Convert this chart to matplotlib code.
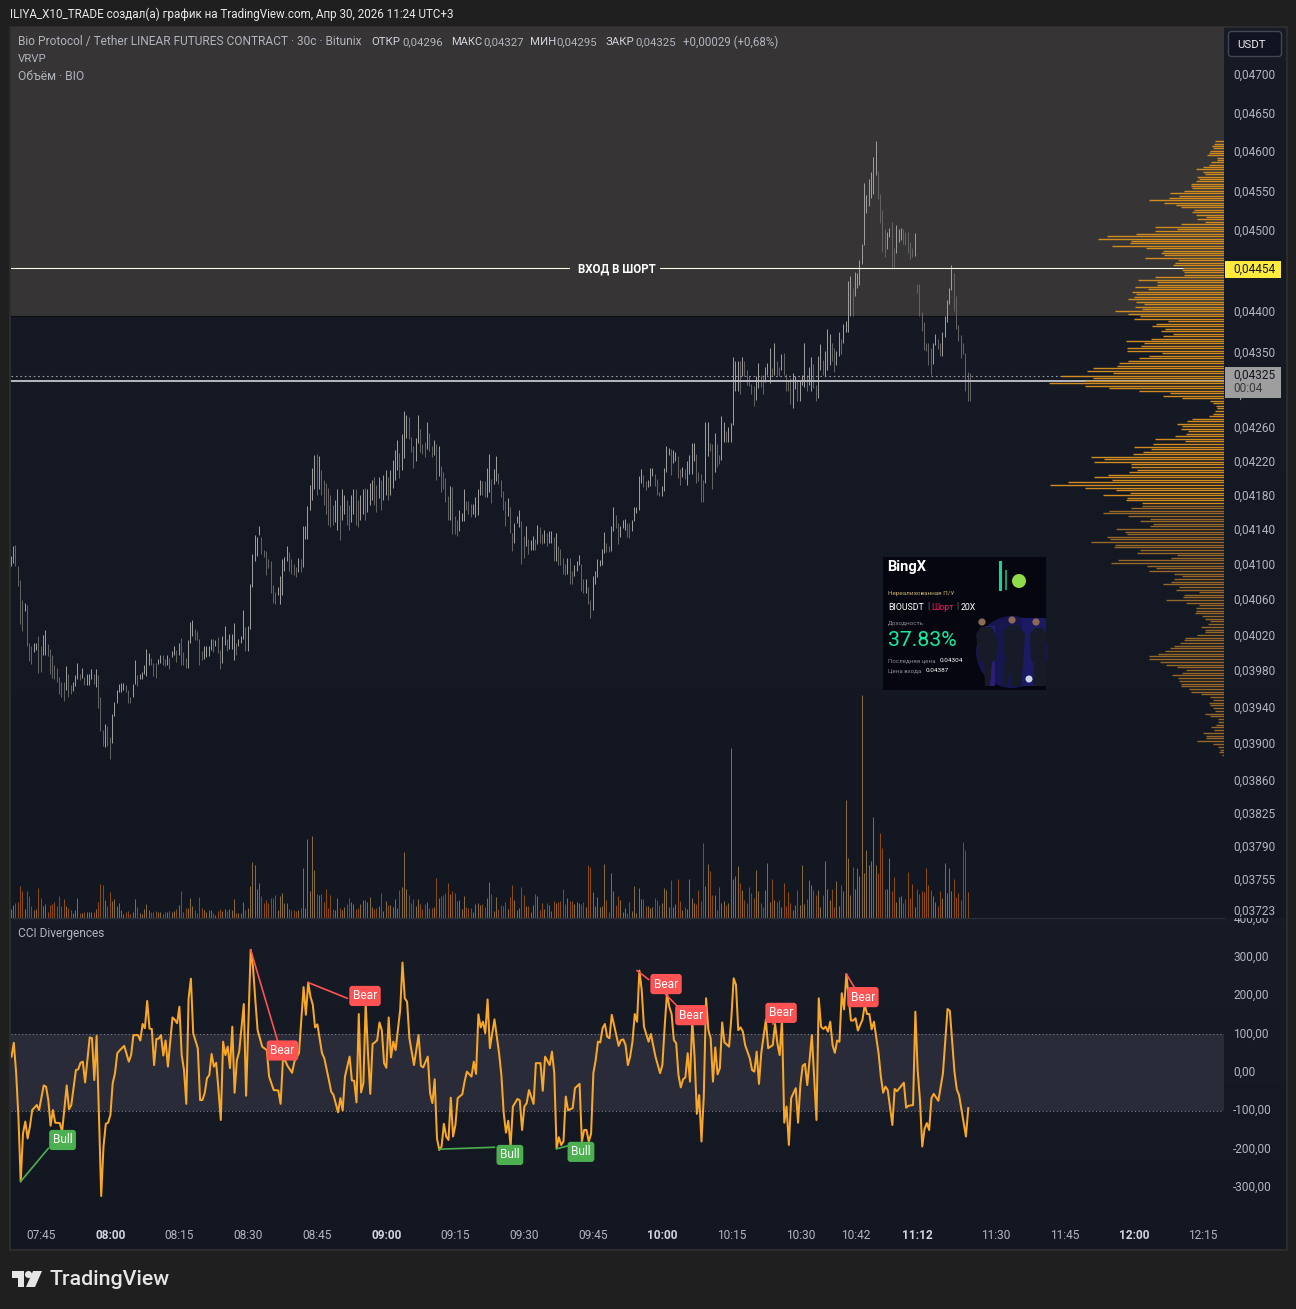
#!/usr/bin/env python3
"""BIOUSDT 30s chart with VRVP, volume and CCI pane, TradingView dark style."""

import numpy as np
import matplotlib
matplotlib.use("Agg")
import matplotlib.pyplot as plt
from matplotlib.colors import LinearSegmentedColormap
from matplotlib.patches import Rectangle, Circle, Polygon, FancyBboxPatch, Ellipse
from matplotlib.ticker import NullLocator
from matplotlib.transforms import ScaledTranslation

plt.rcParams['font.family'] = ['Roboto', 'DejaVu Sans']

# bar highs / lows, in 1e-5 USDT
highs = [
    4110, 4122, 4123, 4099, 4083, 4060, 4057, 4054, 4012, 4008, 4012, 4012, 4019, 4008, 4020, 4026, 4010, 4005, 3998, 3987,
    3984, 3974, 3968, 3968, 3986, 3977, 3965, 3968, 3976, 3989, 3977, 3984, 3974, 3977, 3977, 3982, 3977, 3982, 3976, 3951,
    3915, 3922, 3920, 3908, 3933, 3946, 3959, 3966, 3967, 3967, 3965, 3959, 3952, 3966, 3992, 3976, 3977, 3979, 3987, 4005,
    4000, 3995, 3989, 3989, 3994, 3998, 3998, 3994, 3998, 3995, 4003, 4008, 4004, 4012, 4017, 4001, 3995, 4015, 4035, 4037,
    4027, 4025, 4016, 4002, 4008, 4008, 4008, 4016, 4016, 4015, 4018, 4004, 4019, 4030, 4016, 4021, 4021, 4034, 4011, 4016,
    4019, 4048, 4029, 4031, 4078, 4112, 4134, 4132, 4144, 4132, 4117, 4116, 4107, 4104, 4077, 4069, 4075, 4087, 4107, 4109,
    4121, 4115, 4106, 4101, 4097, 4108, 4106, 4144, 4144, 4168,
    4192, 4212, 4227, 4229, 4226, 4210, 4198, 4195, 4189, 4181, 4169, 4175, 4187, 4169, 4187, 4181, 4175, 4169, 4181, 4187,
    4187, 4175, 4181, 4187, 4189, 4187, 4195, 4198, 4201, 4192, 4201, 4198, 4204, 4210, 4201, 4210, 4222, 4233, 4245,
    4230, 4252, 4280, 4275, 4272, 4249, 4238, 4247, 4275, 4258, 4240, 4243, 4267, 4253, 4238, 4245, 4240, 4238, 4214, 4208,
    4200, 4179, 4191, 4190, 4156, 4151, 4163, 4160, 4188, 4174, 4173, 4170, 4170, 4178, 4187, 4198, 4197, 4197, 4212, 4229,
    4199, 4211, 4226, 4206, 4198, 4185, 4174, 4177, 4167, 4137, 4148, 4156, 4163, 4150, 4133, 4144, 4130, 4128, 4133, 4129,
    4146, 4143, 4135, 4140, 4137, 4139, 4139, 4132, 4136, 4122, 4118, 4108, 4101, 4108, 4108, 4093, 4100, 4104, 4111, 4101,
    4084, 4084, 4075, 4060, 4087, 4093, 4107, 4105, 4118, 4138, 4125, 4121, 4144, 4166, 4157, 4148, 4145, 4151, 4153, 4148,
    4148, 4152, 4167, 4167, 4203, 4211, 4204, 4197, 4198, 4212, 4212, 4205, 4199, 4184, 4191, 4212, 4238, 4236, 4234, 4233,
    4231, 4226, 4211, 4213, 4211, 4220, 4227, 4242, 4241, 4229, 4207, 4205, 4198, 4266, 4267, 4242, 4240, 4254, 4240, 4228,
    4274, 4266, 4256, 4260, 4265,
    4344, 4340, 4340, 4340, 4344, 4340, 4329, 4321, 4312, 4309, 4321, 4337, 4323, 4323, 4332, 4337, 4356, 4331, 4362, 4340,
    4333, 4348, 4349, 4324, 4317, 4319, 4325, 4321, 4317, 4317, 4323, 4361, 4323, 4332, 4344, 4336, 4311, 4346, 4360, 4341,
    4352, 4379, 4373, 4361, 4356, 4352, 4375, 4366, 4385, 4389, 4438, 4444, 4429, 4449, 4448, 4464, 4484, 4560, 4545, 4566,
    4574, 4594, 4614, 4576, 4547, 4527, 4502, 4499, 4504, 4511, 4479, 4507, 4503, 4504, 4503, 4499, 4499, 4486, 4479, 4498,
    4434, 4434, 4400, 4387, 4361, 4362, 4356, 4362, 4373, 4367, 4361, 4375, 4395, 4414, 4429, 4458, 4447, 4419, 4384, 4371,
    4362, 4350, 4327, 4325,
]
lows = [
    4099, 4102, 4098, 4076, 4033, 4025, 4047, 4008, 3991, 3988, 4001, 4004, 3978, 3979, 3998, 3998, 3997, 3977, 3973, 3971,
    3968, 3955, 3952, 3947, 3959, 3951, 3955, 3958, 3964, 3971, 3970, 3972, 3965, 3965, 3965, 3971, 3966, 3963, 3939, 3914,
    3898, 3897, 3898, 3884, 3901, 3931, 3945, 3957, 3957, 3959, 3957, 3945, 3945, 3952, 3966, 3964, 3971, 3971, 3977, 3975,
    3987, 3987, 3975, 3973, 3988, 3989, 3987, 3986, 3987, 3983, 3996, 3998, 3990, 3998, 3987, 3987, 3984, 3984, 4012, 4019,
    4015, 4015, 3987, 3992, 3994, 3996, 3997, 4004, 4001, 4008, 4000, 3982, 3989, 4009, 4002, 4005, 4005, 3992, 3998, 4008,
    4012, 4016, 4003, 4002, 4027, 4075, 4104, 4110, 4134, 4112, 4109, 4088, 4096, 4068, 4056, 4055, 4065, 4055, 4065, 4093,
    4104, 4093, 4089, 4088, 4086, 4092, 4092, 4097, 4130, 4130,
    4163, 4175, 4187, 4181, 4187, 4181, 4169, 4158, 4146, 4143, 4146, 4149, 4140, 4128, 4151, 4158, 4146, 4140, 4149, 4158,
    4146, 4143, 4151, 4158, 4151, 4161, 4169, 4175, 4169, 4161, 4177, 4163, 4175, 4181, 4175, 4181, 4189, 4198, 4210,
    4200, 4210, 4224, 4247, 4246, 4231, 4212, 4220, 4241, 4231, 4229, 4225, 4235, 4232, 4225, 4228, 4198, 4203, 4184, 4187,
    4172, 4151, 4151, 4135, 4135, 4133, 4139, 4150, 4150, 4163, 4158, 4155, 4159, 4155, 4157, 4181, 4181, 4178, 4178, 4184,
    4171, 4193, 4197, 4193, 4178, 4163, 4144, 4156, 4136, 4116, 4125, 4148, 4143, 4101, 4108, 4122, 4112, 4117, 4117, 4117,
    4124, 4125, 4124, 4125, 4121, 4125, 4125, 4104, 4104, 4100, 4100, 4089, 4088, 4089, 4078, 4078, 4087, 4093, 4100, 4070,
    4068, 4068, 4055, 4040, 4048, 4078, 4086, 4098, 4100, 4114, 4115, 4115, 4116, 4139, 4142, 4124, 4132, 4142, 4140, 4132,
    4131, 4139, 4150, 4160, 4163, 4195, 4190, 4186, 4190, 4191, 4203, 4191, 4180, 4179, 4179, 4185, 4207, 4227, 4204, 4218,
    4220, 4200, 4192, 4201, 4199, 4192, 4205, 4205, 4220, 4195, 4197, 4172, 4172, 4195, 4226, 4232, 4187, 4208, 4213, 4217,
    4222, 4243, 4243, 4243, 4243,
    4263, 4303, 4304, 4300, 4321, 4321, 4311, 4309, 4300, 4286, 4293, 4307, 4308, 4300, 4314, 4323, 4313, 4321, 4323, 4323,
    4321, 4329, 4323, 4303, 4304, 4288, 4283, 4306, 4292, 4292, 4311, 4308, 4304, 4311, 4304, 4307, 4292, 4295, 4329, 4323,
    4321, 4329, 4335, 4340, 4326, 4335, 4346, 4348, 4361, 4375, 4375, 4395, 4395, 4419, 4429, 4433, 4459, 4483, 4522, 4532,
    4542, 4546, 4571, 4540, 4510, 4474, 4468, 4477, 4493, 4453, 4454, 4472, 4486, 4489, 4484, 4483, 4473, 4465, 4467, 4469,
    4423, 4394, 4376, 4353, 4352, 4335, 4323, 4336, 4359, 4354, 4346, 4346, 4369, 4387, 4409, 4426, 4401, 4379, 4364, 4343,
    4348, 4304, 4292, 4292,
]

# volume, no scale is shown on the chart so the unit is arbitrary
volume = [
    9, 13, 15, 16, 32, 27, 9, 27, 22, 12, 8, 9, 30, 20, 12, 14, 6, 13, 14, 16, 12, 22, 12, 19, 12, 10, 8, 5, 8, 20,
    5, 5, 6, 6, 6, 6, 6, 9, 16, 34, 33, 18, 12, 26, 17, 19, 12, 15, 8, 4, 6, 7, 4, 6, 19, 11, 5, 4, 9, 14,
    8, 6, 6, 7, 6, 6, 4, 6, 6, 7, 6, 7, 9, 13, 27, 6, 10, 10, 20, 12, 8, 5, 21, 10, 8, 6, 8, 8, 5, 3,
    7, 9, 7, 9, 7, 9, 8, 19, 5, 5, 5, 16, 8, 10, 32, 56, 53, 29, 35, 22, 15, 18, 15, 20, 20, 23, 8, 22, 25, 15,
    15, 9, 8, 8, 7, 8, 10, 50, 10, 79, 27, 82, 48, 24, 23, 24, 16, 29, 10, 23, 9, 8, 20, 10, 8, 11, 14, 20, 16, 14,
    9, 10, 14, 18, 18, 16, 21, 11, 9, 10, 12, 25, 7, 17, 13, 13, 11, 19, 10, 28, 31, 66, 29, 23, 15, 19, 12, 19, 14, 9,
    14, 16, 10, 10, 11, 40, 20, 22, 23, 25, 35, 24, 27, 25, 17, 18, 9, 22, 11, 10, 10, 6, 14, 15, 13, 14, 11, 20, 36, 24,
    7, 21, 9,
    13, 12, 16, 9, 21, 33, 18, 8, 10, 31, 23, 12, 12, 6, 13, 24, 22, 8, 15, 9, 15, 13, 7, 17, 15, 16, 17, 29, 14, 20,
    17, 17, 14, 16, 15, 14, 16, 11, 53, 51, 26, 12, 21, 11, 12, 54, 18, 6, 45, 27, 13, 22, 18, 6, 10, 5, 16, 7, 32, 5,
    30, 19, 19, 12, 12, 10, 11, 20, 18, 13, 15, 30, 28, 11, 38, 11, 14, 39, 17, 8, 11, 9, 39, 20, 15, 14, 28, 17, 75,
    32, 54, 47, 23, 23, 8, 31, 15, 17, 13, 15, 170, 39, 42, 52, 35, 28, 18, 15, 31, 25, 20, 48, 27, 15, 11, 28, 55, 16, 39,
    18, 16, 18, 11, 35, 12, 26, 15, 8, 13, 28, 13, 53, 14, 19, 38, 33, 28, 23, 28, 11, 23, 57, 29, 18, 29, 11, 37, 12, 33,
    27, 118, 60, 23, 51, 29, 50, 42, 223, 45, 68, 53, 57, 101, 53, 45, 85, 70, 29, 29, 60, 27, 41, 16, 21, 22, 15, 19, 46, 20,
    34, 11, 29, 24, 27, 26, 50, 33, 28, 22, 16, 12, 27, 20, 55, 25, 50, 27, 39, 21, 25, 18, 76, 68, 26,
]

# CCI line vertices
cci_bars = [
    0, 1, 2, 3, 4, 5, 6, 7, 8, 9, 11, 12, 14, 15, 16, 17, 18, 19, 21, 22, 24, 25, 26, 28, 29, 30, 31, 32, 34, 35, 36, 37, 38, 39, 40,
    41, 42, 43, 44, 45, 46, 47, 49, 51, 52, 53, 55, 56, 57, 58, 59, 60, 61, 62, 63, 64, 65, 66, 67, 68, 70, 71, 72, 73, 74, 75, 76,
    77, 78, 79, 81, 82, 83, 84, 85, 86, 87, 88, 89, 90, 91, 92, 93, 94, 95, 96, 97, 98, 99, 101, 102, 104, 105, 106, 107, 109, 111,
    112, 114, 116, 117, 118, 119, 120, 122, 123, 125, 127, 128, 129, 130, 131, 132, 133, 135, 136, 138, 139, 140, 142, 143, 144, 145,
    147, 148, 149, 150, 151, 152, 153, 154, 155, 156, 157, 158, 159, 160, 161, 162, 163, 164, 165, 166, 167, 169, 170, 171, 172, 173,
    175, 177, 178, 179, 181, 182, 183, 184, 185, 186, 187, 188, 189, 190, 191, 192, 193, 194, 196, 197, 198, 200, 201, 202, 203, 204,
    205, 206, 207, 208, 210, 212, 213, 214, 215, 216, 217, 218, 220, 221, 222, 223, 224, 225, 227, 228, 230, 231, 232, 234, 235, 236,
    237, 238, 239, 240, 241, 242, 244, 245, 247, 248, 249, 250, 251, 252, 253, 254, 255, 256, 257, 258, 259, 260, 261, 264, 265, 266,
    267, 268, 269, 270, 271, 272, 273, 274, 275, 277, 278, 280, 282, 283, 284, 285, 286, 287, 288, 289, 290, 291, 292, 293, 294, 295,
    296, 297, 298, 299, 300, 301, 302, 303, 304, 305, 306, 307, 308, 309, 310, 312, 313, 314, 315, 316, 317, 318, 319, 321, 322, 323,
    324, 325, 326, 328, 329, 331, 332, 333, 334, 335, 336, 337, 338, 339, 341, 342, 343, 344, 345, 346, 348, 350, 351, 352, 353, 354,
    355, 356, 357, 358, 359, 360, 361, 362, 363, 365, 366, 367, 368, 370, 371, 372, 373, 374, 375, 377, 378, 379, 380, 381, 383, 384,
    385, 388, 389, 390, 392, 393, 394, 395, 396, 397, 398, 399, 400, 401, 403, 405, 407, 408, 410, 411, 412, 415, 416,
]
cci_values = [
    42, 78, 1, -114, -283, -158, -127, -171, -140, -97, -84, -97, -33, -36, -71, -138, -97, -130, -131, -153, -33, -95, -84, 7, 9, 26, 29, -25, 92, 90, -19, 96, -105, -321, -192,
    -133, -130, -110, -27, -1, 51, 58, 70, 29, 46, 98, 98, 84, 127, 116, 187, 115, 114, 20, 88, 89, 98, 45, 84, 16, 144, 138, 129, 172, 46, 7, -81,
    194, 245, 103, 64, -71, -71, -53, -14, -6, 49, 16, 26, -45, -123, 81, 46, 68, 12, 120, -52, 33, 55, 179, -60, 320, 276, 190, 111, 68, 59,
    -10, -45, -46, -81, 32, 32, 18, 0, 29, 51, 223, 151, 235, 198, 177, 118, 126, 51, 38, -19, -49, -58, -103, -66, -98, -10,
    42, -20, -21, -77, 153, -51, -27, 181, 51, -55, 75, 79, 85, 131, 111, 25, 13, 144, 40, 81, 59, 164, 287, 194, 185, 90,
    20, 98, 18, 14, 42, -53, -79, -17, -171, -201, -192, -133, -166, -175, -65, -166, -136, -66, -56, -23, 3, -10, 29, -3, 152, 118,
    133, 103, 191, 64, 139, 51, -6, -104, -156, -125, -192, -88, -68, -72, -149, -88, -79, -45, -81, 25, 25, -47, 42, 20, 55, -1,
    -197, -168, -188, -179, -62, -98, -92, -40, -29, -179, -149, -149, -179, -159, -1, 33, 81, 79, 116, 127, 94, 90, 151, 70, 85, 87,
    72, 20, 42, 81, 153, 133, 266, 216, 120, 81, 101, 42, -1, 20, 120, 207, 172, 153, 85, 77, -6, -38, -17, -12, 51, -23,
    138, 42, -107, -58, -179, -62, 194, 111, 90, -23, 66, -4, 12, 131, 79, 68, 144, 246, 229, 111, 118, 107, 72, 38, 7, 3,
    55, -29, 51, 138, 64, 72, 127, 77, 46, 138, -130, -88, -188, -66, -40, -130, -32, 18, 23, -32, 98, -123, 194, 120, 114, 120,
    107, 133, 72, 52, 84, 81, 207, 165, 257, 136, 136, 142, 110, 138, 177, 153, 153, 113, 133, 51, -10, -52, -36, -45, -136, -42,
    -48, -26, -91, -86, -84, 159, 7, -71, -192, -146, -131, -149, -66, -55, -73, -1, 166, 161, 3, -43, -58, -166, -92,
]

# divergence labels: text, line start (bar, cci), line end (bar, cci), label centre (bar, cci)
div_labels = ["Bull", "Bear", "Bear", "Bull", "Bull", "Bear", "Bear", "Bear", "Bear"]
div_from = [(4, -283), (104, 320), (129, 235), (186, -199), (237, -198), (272, 266), (284, 207), (331, 127), (363, 257)]
div_to = [(16, -197), (116, 77), (146, 194), (210, -194), (248, -181), (277, 243), (290, 170), (333, 150), (367, 217)]
div_centre = [(22.2, -175), (117.8, 58), (153.7, 200), (216.7, -214), (247.6, -206), (284.6, 231), (295.4, 150), (334.6, 156), (370.2, 197)]

# visible range profile, widths from the top level down, arbitrary unit
vp_widths = [
    9, 10, 12, 11, 14, 15, 17, 7, 7, 13, 15, 21, 28, 21, 19, 27, 25, 28, 33, 33, 32, 40, 54, 45, 55, 75, 60, 48, 43, 30,
    32, 28, 18, 27, 19, 43, 69, 47, 69, 88, 117, 126, 93, 94, 112, 78, 61, 63, 60, 79, 46, 49, 51, 41, 42, 40, 40, 69, 86, 67,
    67, 89, 76, 92, 88, 90, 96, 88, 80, 89, 82, 109, 96, 84, 90, 56, 68, 72, 59, 63, 51, 61, 73, 98, 80, 83, 97, 97, 62, 75,
    85, 96, 105, 107, 131, 137, 111, 163, 131, 139, 175, 139, 115, 85, 54, 61, 42, 14, 11, 8, 7, 9, 11, 15, 32, 37, 47, 42, 43, 36,
    38, 49, 69,
    39, 71, 90, 73, 81, 91, 133, 120, 130, 93, 93, 87, 95, 116, 130, 112, 156, 174, 139, 108, 94, 121, 97, 98, 82, 82, 93, 115, 121, 96,
    74, 84, 71, 74, 108, 99, 97, 117, 114, 133, 109, 110, 84, 87, 47, 53, 106, 113, 77, 68, 75, 50, 42, 50, 53, 61, 45, 48, 25, 40,
    41, 58, 38, 25, 28, 28, 29, 22, 19, 14, 16, 23, 19, 19, 27, 39, 40, 44, 50, 54, 59, 66, 75, 75, 64, 58, 47, 38, 42, 52,
    46, 45, 43, 43, 35, 33, 23, 14, 11, 15, 14, 11, 9, 19, 14, 6, 6, 8, 13, 10, 21, 18, 18, 27, 11, 6, 4, 5, 2,
]
vp_top = 4614
vp_bottom = 3888
vp_bright_from = 4170

# axis labels
price_ticks = [4700, 4650, 4600, 4550, 4500, 4400, 4350, 4300, 4260, 4220, 4180, 4140, 4100, 4060, 4020, 3980, 3940, 3900, 3860, 3825, 3790, 3755, 3723]
cci_ticks = [300, 200, 100, 0, -100, -200, -300]
time_bars = [13, 43, 73, 103, 133, 163, 193, 223, 253, 283, 313, 343, 367, 394, 428, 458, 488, 518]
time_labels = ["07:45", "08:00", "08:15", "08:30", "08:45", "09:00", "09:15", "09:30", "09:45", "10:00", "10:15", "10:30", "10:42", "11:12", "11:30", "11:45", "12:00", "12:15"]
bold_times = ["08:00", "09:00", "10:00", "11:12", "12:00"]

entry_price = 4454
zone_bottom = 4395
last_dotted = 4321
last_solid = 4316

W, H = 1296, 1309
GREY_TXT = '#b2b5be'


def comma(v, digits):
    return f"{v:.{digits}f}".replace('.', ',')


def nudge_up(labels, fig, px):
    """Tick labels sit a touch above their level in the reference."""
    off = ScaledTranslation(0, px / 100, fig.dpi_scale_trans)
    for t in labels:
        t.set_transform(t.get_transform() + off)


def draw_card(fg):
    """BingX share card, built from plain shapes and text."""
    fg.add_patch(Rectangle((883, 557), 163, 133, fc='#05060f', ec='none'))
    # glow behind the players, then the players
    fg.add_patch(Ellipse((1012, 652), 72, 72, fc='#17164f', ec='none'))
    fg.add_patch(Rectangle((1022, 618), 24, 68, fc='#1b1a62', ec='none'))
    fg.add_patch(Rectangle((985, 626), 10, 60, fc='#2a1f72', ec='none'))
    players = [
        [(976, 634), (981, 627), (992, 627), (998, 640), (996, 660), (992, 662), (990, 686), (985, 686), (984, 662), (979, 662)],
        [(1003, 632), (1010, 625), (1018, 625), (1025, 634), (1023, 664), (1021, 686), (1012, 686), (1012, 668), (1006, 686), (1003, 686), (1005, 660)],
        [(1030, 634), (1035, 628), (1042, 628), (1046, 634), (1046, 686), (1033, 686), (1034, 664), (1031, 660)],
    ]
    heads = [(982, 622), (1012, 620), (1036, 622)]
    for body, head in zip(players, heads):
        fg.add_patch(Polygon(body, fc='#171a27', ec='none'))
        fg.add_patch(Circle(head, 3.6, fc='#8c6a55', ec='none'))
    fg.add_patch(Circle((1029, 679), 3.5, fc='#cfd8e6', ec='none'))
    # green bars and ball
    fg.add_patch(Rectangle((999, 561), 3, 30, fc='#0fd98e', ec='none'))
    fg.add_patch(Rectangle((1005, 570), 2, 20, fc='#0c9e6b', ec='none'))
    fg.add_patch(Circle((1019, 581), 7, fc='#8fdc4a', ec='none'))
    fg.text(887, 567, "BingX", color='white', fontsize=10.5, fontweight='bold', va='center')
    fg.text(888, 593, "Нереализованная П/У", color='#c9b36a', fontsize=4.6, va='center')
    fg.text(888, 607, "BIOUSDT", color='white', fontsize=6.3, va='center')
    fg.text(927, 607, "|", color='#777777', fontsize=6.3, va='center')
    fg.text(931, 607, "Шорт", color='#ee1d5b', fontsize=6.3, va='center')
    fg.text(956, 607, "|", color='#777777', fontsize=6.3, va='center')
    fg.text(961, 607, "20X", color='white', fontsize=6.3, va='center')
    fg.text(888, 623, "Доходность", color='#8a8c94', fontsize=4.6, va='center')
    fg.text(888, 640, "37.83%", color='#12ee9f', fontsize=15.3, va='center')
    fg.text(888, 661, "Последняя цена", color='#8a8c94', fontsize=4.4, va='center')
    fg.text(940, 661, "0.04304", color='white', fontsize=4.6, va='center')
    fg.text(888, 671, "Цена входа", color='#8a8c94', fontsize=4.4, va='center')
    fg.text(926, 671, "0.04387", color='white', fontsize=4.6, va='center')


def main():
    fig = plt.figure(figsize=(W / 100, H / 100), dpi=100, facecolor='#1f1f1f')

    # panel behind everything, pixel coordinates
    bg = fig.add_axes([0, 0, 1, 1], zorder=0)
    pane_cmap = LinearSegmentedColormap.from_list('pane', ['#171b26', '#131722'])
    grad = np.linspace(0, 1, 64).reshape(-1, 1)
    bg.imshow(grad, extent=(10, 1286, 918, 27), aspect='auto', cmap=pane_cmap, zorder=1)
    bg.imshow(grad, extent=(10, 1286, 1249, 918), aspect='auto', cmap=pane_cmap, zorder=1)
    bg.set_xlim(0, W)
    bg.set_ylim(H, 0)
    bg.axis('off')
    bg.add_patch(Rectangle((9.5, 26.5), 1277, 1223, fc='none', ec='#2c2c2c', lw=1.5, zorder=2))

    # price pane
    ax = fig.add_axes([11 / W, 1 - 918 / H, 1213 / W, 891 / H], zorder=1)
    ax.patch.set_visible(False)
    ax.set_yscale('log')
    ax.set_xlim(0.1, 527.5)
    ax.set_ylim(3715.3, 4763.4)
    for s in ax.spines.values():
        s.set_visible(False)

    ax.axhspan(zone_bottom, 4763.4, fc='#363434', ec='none', zorder=0)
    ax.axhline(zone_bottom, color='#0e0e10', lw=0.8, zorder=0.5)

    bars = np.arange(len(highs))
    hi = np.array(highs, dtype=float)
    lo = np.array(lows, dtype=float)
    mid = (hi + lo) / 2
    up = np.r_[True, mid[1:] >= mid[:-1]]
    candle_colors = np.where(up, '#9c9c9c', '#626262')
    c = ax.vlines(bars, lo, hi, colors=candle_colors, linewidth=0.72, zorder=2)
    c.set_snap(True)

    ax.axhline(entry_price, color='#fdfce4', lw=0.8, zorder=3)
    ax.axhline(last_dotted, color='#9a9da6', lw=0.8, ls=(0, (1.5, 2.5)), zorder=3)
    ax.axhline(last_solid, color='#b8babf', lw=1.4, zorder=3)

    ax.xaxis.set_visible(False)

    # volume on its own hidden scale
    ax_vol = ax.twinx()
    ax_vol.set_yscale('linear')
    ax_vol.set_ylim(0, 891)
    ax_vol.yaxis.set_visible(False)
    for s in ax_vol.spines.values():
        s.set_visible(False)
    vol = np.array(volume, dtype=float)
    n = min(len(vol), len(up))
    vol_colors = np.where(up[:n], '#85693f', '#8a4b0a')
    v = ax_vol.vlines(np.arange(n), 0, vol[:n], colors=vol_colors, linewidth=0.72, zorder=2)
    v.set_snap(True)

    # volume profile, hanging off the right edge
    ax_vp = ax.twiny()
    ax_vp.set_xlim(1213, 0)
    ax_vp.xaxis.set_visible(False)
    for s in ax_vp.spines.values():
        s.set_visible(False)
    vp_prices = np.linspace(vp_top, vp_bottom, len(vp_widths))
    vp_colors = np.where(vp_prices >= vp_bright_from, '#d08c20', '#96682a')
    ax_vp.hlines(vp_prices, 0, vp_widths, colors=vp_colors, linewidth=1.0)

    ax.yaxis.tick_right()
    ax.yaxis.set_minor_locator(NullLocator())
    ax.yaxis.set_minor_formatter(plt.NullFormatter())
    ax.set_yticks(price_ticks)
    ax.set_yticklabels([comma(p / 1e5, 5) for p in price_ticks])
    ax.tick_params(axis='y', which='both', length=0, pad=6.5, labelsize=8.6, labelcolor=GREY_TXT)
    nudge_up(ax.get_yticklabels(), fig, 1)

    # CCI pane, time labels live inside its lower strip
    ax2 = fig.add_axes([11 / W, 1 - 1249 / H, 1213 / W, 331 / H], zorder=1)
    ax2.patch.set_visible(False)
    ax2.set_xlim(-0.22, 527.2)
    ax2.set_ylim(-458.9, 403)
    for s in ax2.spines.values():
        s.set_visible(False)
    ax2.spines['top'].set_visible(True)
    ax2.spines['top'].set_color('#2a2e39')
    ax2.spines['top'].set_linewidth(1.0)
    ax2.axhspan(-100, 100, fc='#292c38', ec='none', zorder=0)
    ax2.axhline(100, color='#787b86', lw=0.8, ls=(0, (1, 2.2)), zorder=1)
    ax2.axhline(-100, color='#787b86', lw=0.8, ls=(0, (1, 2.2)), zorder=1)
    ax2.plot(cci_bars, cci_values, color='#f9a727', lw=1.45, zorder=3, solid_joinstyle='round')

    for label, a, b, centre in zip(div_labels, div_from, div_to, div_centre):
        col = '#ff5252' if label == "Bear" else '#4caf50'
        ax2.plot([a[0], b[0]], [a[1], b[1]], color=col, lw=1.2, zorder=4)
        ax2.text(centre[0], centre[1], label, color='white', fontsize=8.6, ha='center', va='center', zorder=5,
                 bbox=dict(boxstyle='round,pad=0.3,rounding_size=0.25', fc=col, ec='none'))

    ax2.yaxis.tick_right()
    ax2.set_yticks(cci_ticks)
    ax2.set_yticklabels([comma(v, 2) for v in cci_ticks])
    ax2.tick_params(axis='y', length=0, pad=6.5, labelsize=8.6, labelcolor=GREY_TXT)
    nudge_up(ax2.get_yticklabels(), fig, 2)
    ax2.set_xticks(time_bars)
    ax2.set_xticklabels(time_labels)
    ax2.tick_params(axis='x', length=0, pad=-14.5, labelsize=8.6, labelcolor=GREY_TXT)
    for t in ax2.get_xticklabels():
        if t.get_text() in bold_times:
            t.set_fontweight('bold')
            t.set_color('#d1d4dc')

    # everything that sits on top, pixel coordinates
    fg = fig.add_axes([0, 0, 1, 1], zorder=10)
    fg.set_xlim(0, W)
    fg.set_ylim(H, 0)
    fg.axis('off')
    fg.patch.set_alpha(0)

    fg.text(10, 14.5, "ILIYA_X10_TRADE создал(а) график на TradingView.com, Апр 30, 2026 11:24 UTC+3",
            color='#e8e8e8', fontsize=8.35, va='center')
    legend_bits = [
        (18, "Bio Protocol / Tether LINEAR FUTURES CONTRACT · 30с · Bitunix", GREY_TXT, 8.6),
        (371, "ОТКР", '#d1d4dc', 8.2), (402, "0,04296", GREY_TXT, 8.2),
        (451, "МАКС", '#d1d4dc', 8.0), (483, "0,04327", GREY_TXT, 8.2),
        (530, "МИН", '#d1d4dc', 8.2), (556, "0,04295", GREY_TXT, 8.2),
        (605, "ЗАКР", '#d1d4dc', 8.2), (635, "0,04325", GREY_TXT, 8.2),
        (683, "+0,00029 (+0,68%)", GREY_TXT, 8.3),
    ]
    for x, s, col, size in legend_bits:
        fg.text(x, 42, s, color=col, fontsize=size, va='center')
    fg.text(18, 59, "VRVP", color=GREY_TXT, fontsize=8.2, va='center')
    fg.text(18, 76, "Объём · BIO", color=GREY_TXT, fontsize=8.7, va='center')
    fg.text(18, 934, "CCI Divergences", color=GREY_TXT, fontsize=8.6, va='center')

    fg.add_patch(Rectangle((570, 262), 90, 15, fc='#363434', ec='none'))
    fg.text(617, 269, "ВХОД В ШОРТ", color='white', fontsize=8.3, fontweight='bold', ha='center', va='center')

    draw_card(fg)

    # USDT button and price tags
    fg.add_patch(FancyBboxPatch((1228.5, 31.5), 53, 25, boxstyle='round,pad=0,rounding_size=3', fc='#111420', ec='#434651', lw=1))
    fg.text(1251, 44.5, "USDT", color='#e8e8e8', fontsize=8.2, ha='center', va='center')
    fg.add_patch(Rectangle((1225, 261), 56, 17, fc='#ffeb3b', ec='none'))
    fg.text(1233, 269.5, "0,04454", color='#131722', fontsize=8.6, va='center')
    fg.add_patch(Rectangle((1225, 367), 56, 31, fc='#9e9e9e', ec='none'))
    fg.text(1233, 375, "0,04325", color='#131722', fontsize=8.6, va='center')
    fg.text(1233, 389, "00:04", color='#3a3a3a', fontsize=8.6, va='center')

    # 400,00 tick is cut by the pane edge
    t400 = fg.text(1234, 919, "400,00", color=GREY_TXT, fontsize=8.6, va='center')
    t400.set_clip_on(True)
    t400.set_clip_path(Rectangle((1224, 918), 60, 20, transform=fg.transData))

    # TradingView logo
    fg.add_patch(Rectangle((12, 1271), 12, 7, fc='#e6e6e6', ec='none'))
    fg.add_patch(Rectangle((18, 1271), 6, 16, fc='#e6e6e6', ec='none'))
    fg.add_patch(Circle((28.5, 1274.5), 3.5, fc='#e6e6e6', ec='none'))
    fg.add_patch(Polygon([(33, 1271), (42, 1271), (35, 1287), (26, 1287)], fc='#e6e6e6', ec='none'))
    fg.text(49, 1279.5, "TradingView", color='#e6e6e6', fontsize=15.4, fontweight='medium', va='center')

    fig.savefig("out.png", dpi=100, facecolor=fig.get_facecolor())


if __name__ == "__main__":
    main()
